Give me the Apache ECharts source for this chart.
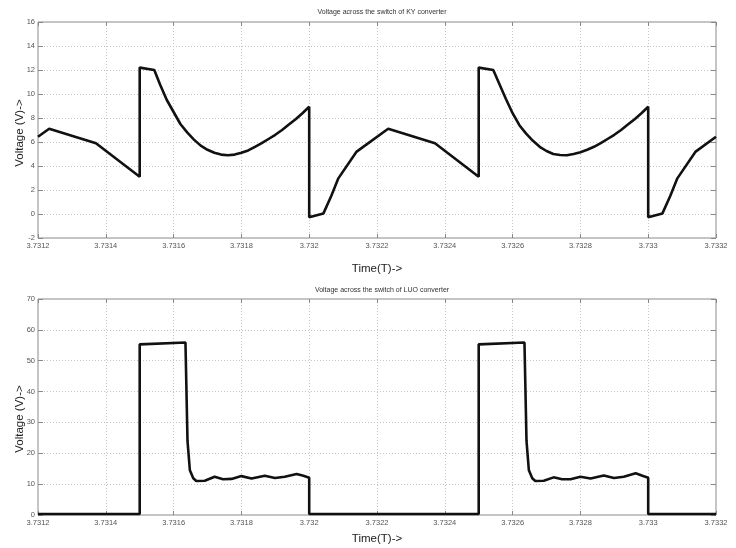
<!DOCTYPE html>
<html>
<head>
<meta charset="utf-8">
<script src="https://cdn.jsdelivr.net/npm/echarts@6/dist/echarts.min.js"></script>
<style>html,body{margin:0;padding:0;background:#fff;}#c{width:736px;height:548px;}</style>
</head>
<body>
<div id="c"></div>
<script>
// KY converter switch voltage
var kyTime = [3.7312, 3.731233, 3.731371, 3.7315, 3.7315, 3.731543, 3.73156, 3.73158, 3.7316, 3.73162, 3.73164, 3.73166, 3.73168, 3.7317, 3.73172, 3.73174, 3.73176, 3.73178, 3.7318, 3.73182, 3.73184, 3.73186, 3.73188, 3.7319, 3.73192, 3.73194, 3.73196, 3.73198, 3.732, 3.732, 3.732042, 3.732065, 3.732086, 3.73214, 3.732233, 3.732371, 3.7325, 3.7325, 3.732543, 3.73256, 3.73258, 3.7326, 3.73262, 3.73264, 3.73266, 3.73268, 3.7327, 3.73272, 3.73274, 3.73276, 3.73278, 3.7328, 3.73282, 3.73284, 3.73286, 3.73288, 3.7329, 3.73292, 3.73294, 3.73296, 3.73298, 3.733, 3.733, 3.733042, 3.733065, 3.733086, 3.73314, 3.7332];
var kyVolt = [6.44, 7.1, 5.9, 3.1, 12.2, 12.0, 10.8, 9.5, 8.5, 7.5, 6.8, 6.2, 5.7, 5.35, 5.1, 4.95, 4.9, 4.95, 5.1, 5.3, 5.6, 5.9, 6.25, 6.6, 7.0, 7.45, 7.9, 8.4, 8.94, -0.28, 0.05, 1.5, 2.97, 5.2, 7.1, 5.9, 3.1, 12.2, 12.0, 10.9, 9.6, 8.4, 7.4, 6.7, 6.1, 5.6, 5.25, 5.0, 4.92, 4.9, 5.0, 5.15, 5.35, 5.6, 5.9, 6.25, 6.6, 7.0, 7.45, 7.9, 8.4, 8.94, -0.28, 0.05, 1.5, 2.97, 5.2, 6.44];
// LUO converter switch voltage
var luoTime = [3.7312, 3.7315, 3.7315, 3.731635, 3.731641, 3.731648, 3.731658, 3.731667, 3.731692, 3.731721, 3.731746, 3.731771, 3.7318, 3.73183, 3.731869, 3.731899, 3.731928, 3.731963, 3.731983, 3.732, 3.732, 3.7325, 3.7325, 3.732635, 3.732641, 3.732648, 3.732658, 3.732667, 3.732692, 3.732721, 3.732746, 3.732771, 3.7328, 3.73283, 3.732869, 3.732899, 3.732928, 3.732963, 3.732983, 3.733, 3.733, 3.7332];
var luoVolt = [0.3, 0.3, 55.3, 55.9, 24, 14.5, 11.9, 11.0, 11.1, 12.4, 11.6, 11.7, 12.6, 11.8, 12.7, 12.0, 12.4, 13.3, 12.7, 12.1, 0.3, 0.3, 55.3, 55.9, 24, 14.5, 11.9, 11.0, 11.1, 12.2, 11.6, 11.6, 12.4, 11.8, 12.8, 12.0, 12.4, 13.5, 12.7, 12.1, 0.3, 0.3];
// axis ticks
var xMin = 3.7312, xMax = 3.7332, xStep = 0.0002;
var kyTicks = {min: -2, max: 16, step: 2};
var luoTicks = {min: 0, max: 70, step: 10};

function pairs(t, v) { return t.map(function (x, i) { return [x, v[i]]; }); }

var FONT = "'Liberation Sans', Arial, sans-serif";
var gridLine = {show: true, lineStyle: {color: '#c4c4c4', type: [1, 2], width: 1}};
function xAx(idx, name, gap) {
  return {
    type: 'value', gridIndex: idx, min: xMin, max: xMax, interval: xStep,
    name: name, nameLocation: 'middle', nameGap: gap, nameMoveOverlap: false,
    nameTextStyle: {fontFamily: FONT, fontSize: 11.5, color: '#222'},
    axisLine: {show: false, onZero: false},
    axisTick: {show: true, inside: true, length: 4, lineStyle: {color: '#888'}},
    axisLabel: {fontFamily: FONT, fontSize: 7.5, color: '#555', margin: 4,
      formatter: function (v) { return String(+v.toFixed(4)); }},
    splitLine: gridLine
  };
}
function xTop(idx) {
  return {type: 'value', gridIndex: idx, position: 'top', min: xMin, max: xMax, interval: xStep,
    axisLine: {show: false, onZero: false}, axisLabel: {show: false}, splitLine: {show: false},
    axisTick: {show: true, inside: true, length: 4, lineStyle: {color: '#888'}}};
}
function yAx(idx, tk, pad) {
  return {
    type: 'value', gridIndex: idx, min: tk.min, max: tk.max, interval: tk.step,
    name: 'Voltage (V)->', nameLocation: 'middle', nameGap: 12, nameMoveOverlap: false,
    nameTextStyle: {fontFamily: FONT, fontSize: 11.5, color: '#222', padding: pad},
    axisLine: {show: false, onZero: false},
    axisTick: {show: true, inside: true, length: 5, lineStyle: {color: '#888'}},
    axisLabel: {fontFamily: FONT, fontSize: 7.5, color: '#555', margin: 3},
    splitLine: gridLine
  };
}
function yRight(idx, tk) {
  return {type: 'value', gridIndex: idx, position: 'right', min: tk.min, max: tk.max, interval: tk.step,
    axisLine: {show: false, onZero: false}, axisLabel: {show: false}, splitLine: {show: false},
    axisTick: {show: true, inside: true, length: 5, lineStyle: {color: '#888'}}};
}

var chart = echarts.init(document.getElementById('c'), null, {renderer: 'canvas'});
chart.setOption({
  backgroundColor: '#fff',
  animation: false,
  title: [
    {text: 'Voltage across the switch of KY converter', left: 377, top: 4, textAlign: 'center',
      textStyle: {fontFamily: FONT, fontSize: 7, fontWeight: 'normal', color: '#333'}},
    {text: 'Voltage across the switch of LUO converter', left: 377, top: 282, textAlign: 'center',
      textStyle: {fontFamily: FONT, fontSize: 7, fontWeight: 'normal', color: '#333'}}
  ],
  grid: [
    {left: 38, top: 22, width: 678, height: 216, show: true, borderColor: '#8a8a8a', borderWidth: 1,
      backgroundColor: 'transparent', outerBoundsMode: 'none', containLabel: false},
    {left: 38, top: 299, width: 678, height: 216, show: true, borderColor: '#8a8a8a', borderWidth: 1,
      backgroundColor: 'transparent', outerBoundsMode: 'none', containLabel: false}
  ],
  xAxis: [xAx(0, 'Time(T)->', 25), xAx(1, 'Time(T)->', 18), xTop(0), xTop(1)],
  yAxis: [yAx(0, kyTicks, [0, 6, 0, 0]), yAx(1, luoTicks, [0, 24, 0, 0]), yRight(0, kyTicks), yRight(1, luoTicks)],
  series: [
    {type: 'line', xAxisIndex: 0, yAxisIndex: 0, data: pairs(kyTime, kyVolt), showSymbol: false,
      lineStyle: {color: '#111', width: 2.6}, z: 5},
    {type: 'line', xAxisIndex: 1, yAxisIndex: 1, data: pairs(luoTime, luoVolt), showSymbol: false,
      lineStyle: {color: '#111', width: 2.6}, z: 5}
  ]
});
</script>
</body>
</html>
